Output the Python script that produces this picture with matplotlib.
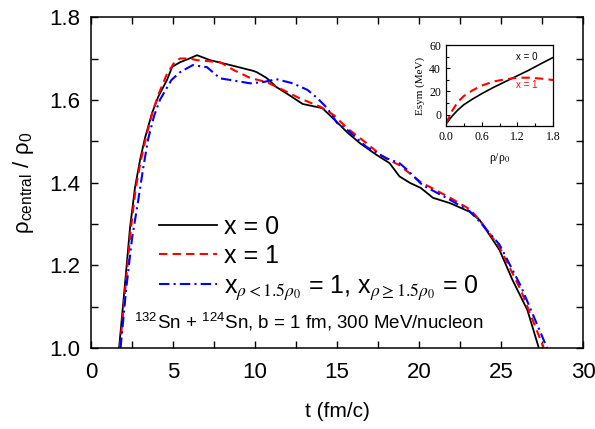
import matplotlib
matplotlib.use('Agg')
import matplotlib.pyplot as plt
from matplotlib.ticker import MultipleLocator

plt.rcParams['font.family'] = ['Liberation Sans', 'DejaVu Sans']
plt.rcParams['mathtext.fontset'] = 'stix'

# main panel: central density vs time
t_x0 = [1.71, 2.07, 2.38, 2.68, 2.99, 3.29, 3.72, 4.09, 4.63, 4.95, 5.43, 6.0, 6.46, 7.26,
        8.5, 9.9, 10.1, 10.7, 11.3, 12.1, 12.9, 13.5, 14.1, 15.0, 15.6, 16.4, 17.4, 18.2,
        18.8, 19.45, 20.1, 20.85, 21.9, 23.1, 23.7, 24.3, 24.9, 25.7, 26.6, 27.3]
rho_x0 = [1.00, 1.155, 1.292, 1.388, 1.455, 1.508, 1.568, 1.607, 1.648, 1.680, 1.691, 1.700,
          1.708, 1.696, 1.684, 1.670, 1.667, 1.653, 1.631, 1.611, 1.590, 1.585, 1.580, 1.546,
          1.522, 1.495, 1.467, 1.447, 1.415, 1.399, 1.387, 1.363, 1.350, 1.329, 1.309, 1.273,
          1.237, 1.164, 1.092, 1.00]

t_x1 = [1.76, 2.1, 2.42, 2.72, 3.03, 3.33, 3.75, 4.1, 4.6, 5.1, 5.43, 6.0, 6.46, 7.87, 8.7,
        9.7, 10.7, 11.7, 12.7, 14.0, 14.8, 15.6, 16.8, 17.8, 18.8, 20.1, 21.9, 23.1, 23.7,
        24.9, 26.2, 27.6]
rho_x1 = [1.00, 1.148, 1.285, 1.385, 1.452, 1.506, 1.570, 1.612, 1.660, 1.692, 1.700, 1.700,
          1.696, 1.691, 1.672, 1.653, 1.643, 1.624, 1.604, 1.583, 1.563, 1.532, 1.495, 1.462,
          1.442, 1.401, 1.363, 1.335, 1.309, 1.244, 1.14, 1.00]

t_mix = [1.8, 2.15, 2.5, 2.87, 3.18, 3.48, 3.85, 4.2, 4.9, 5.43, 6.2, 7.07, 7.87, 8.5, 9.7,
         10.5, 11.3, 12.3, 13.2, 13.8, 14.4, 15.0, 15.6, 16.8, 18.0, 18.8, 19.3, 20.2, 21.9,
         23.1, 23.7, 24.9, 26.2, 27.8]
rho_mix = [1.00, 1.145, 1.265, 1.355, 1.435, 1.505, 1.562, 1.600, 1.648, 1.667, 1.684, 1.679,
           1.652, 1.648, 1.640, 1.643, 1.650, 1.640, 1.624, 1.604, 1.58, 1.544, 1.528, 1.486,
           1.459, 1.447, 1.43, 1.394, 1.358, 1.33, 1.305, 1.25, 1.15, 1.00]

# inset: symmetry energy vs density
u_ins = [0.0, 0.1, 0.2, 0.3, 0.45, 0.6, 0.8, 1.0, 1.2, 1.4, 1.6, 1.8]
esym_x0 = [-8, -1.5, 4, 8.5, 13.5, 18, 23.5, 28.5, 33.5, 38.5, 44, 49.3]
esym_x1 = [-8, 3, 11, 16, 21, 25, 28.5, 30.5, 31.8, 31.8, 31, 29.8]

fig = plt.figure(figsize=(5.95, 4.29), dpi=100)
ax = fig.add_axes([0.153, 0.189, 0.827, 0.771])

ax.plot(t_x0, rho_x0, color='black', lw=1.3, label='x = 0')
ax.plot(t_x1, rho_x1, color='red', lw=1.5, dashes=(4, 2.5), label='x = 1')
ax.plot(t_mix, rho_mix, color='blue', lw=1.5, dashes=(5, 2, 1, 2),
        label=r'x$_{\rho<1.5\rho_0}$ = 1, x$_{\rho\geq1.5\rho_0}$ = 0')

ax.set_xlim(0, 30)
ax.set_ylim(1.0, 1.8)
ax.xaxis.set_major_locator(MultipleLocator(5))
ax.xaxis.set_minor_locator(MultipleLocator(2.5))
ax.yaxis.set_major_locator(MultipleLocator(0.2))
ax.yaxis.set_minor_locator(MultipleLocator(0.1))
ax.tick_params(which='both', direction='in', top=True, right=True, width=1.0, labelsize=16)
ax.tick_params(which='major', length=5)
ax.tick_params(which='minor', length=5)
ax.tick_params(axis='x', which='both', pad=10)
ax.tick_params(axis='y', which='both', pad=8)
for s in ax.spines.values():
    s.set_linewidth(1.1)

ax.set_xlabel('t (fm/c)', fontsize=15, labelpad=14)
ax.set_ylabel(r'ρ$_{\mathregular{central}}$ / ρ$_{\mathregular{0}}$', fontsize=16, labelpad=9)

ax.legend(loc='upper left', bbox_to_anchor=(0.118, 0.433), frameon=False, fontsize=18,
          handlelength=2.3, handletextpad=0.3, labelspacing=0.2, borderaxespad=0)

ax.text(0.087, 0.08, r'$^{\mathregular{132}}$Sn + $^{\mathregular{124}}$Sn, b = 1 fm, 300 MeV/nucleon',
        transform=ax.transAxes, fontsize=13.5, va='center', ha='left')

# inset
axi = fig.add_axes([0.7496, 0.706, 0.18, 0.189])
axi.plot(u_ins, esym_x0, color='black', lw=1.2)
axi.plot(u_ins, esym_x1, color='red', lw=1.5, dashes=(4, 2.5))
axi.set_xlim(0, 1.8)
axi.set_ylim(-10, 60)
axi.set_xticks([0.0, 0.6, 1.2, 1.8])
axi.set_yticks([0, 20, 40, 60])
axi.xaxis.set_minor_locator(MultipleLocator(0.3))
axi.yaxis.set_minor_locator(MultipleLocator(10))
axi.tick_params(which='both', direction='in', labelsize=8.5, width=0.8)
axi.tick_params(which='major', length=3)
axi.tick_params(which='minor', length=2)
for lab in axi.get_xticklabels() + axi.get_yticklabels():
    lab.set_family('Liberation Serif')
for s in axi.spines.values():
    s.set_linewidth(0.9)
axi.set_xlabel(r'ρ/ρ$_0$', fontsize=8.5, family='Liberation Serif', labelpad=6)
axi.set_ylabel('Esym (MeV)', fontsize=8, family='Liberation Serif', labelpad=3)
axi.text(1.18, 47, 'x = 0', fontsize=7, color='black')
axi.text(1.18, 23, 'x = 1', fontsize=7, color='red')

fig.savefig('out.png', dpi=100)
